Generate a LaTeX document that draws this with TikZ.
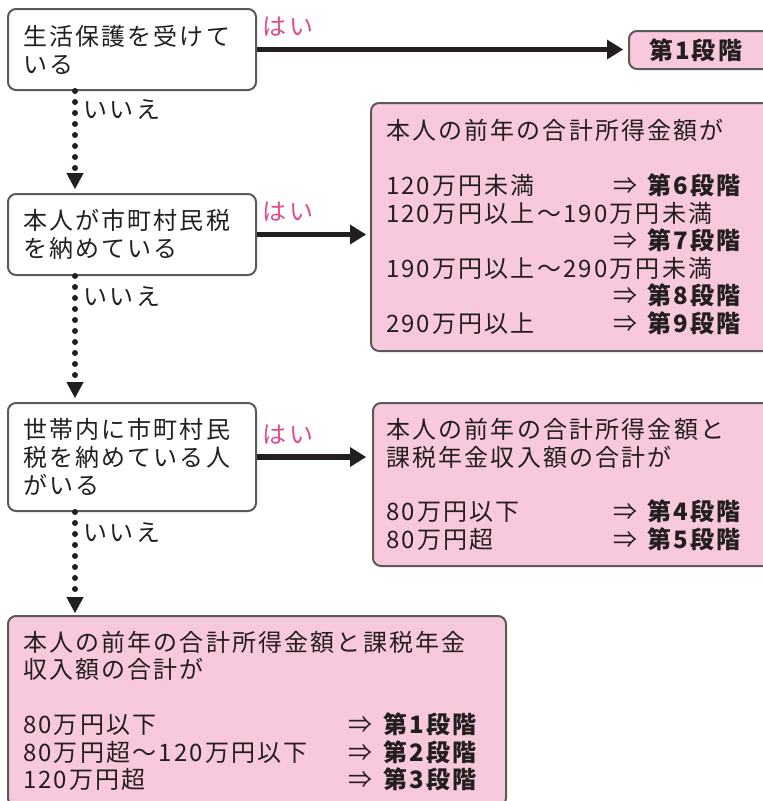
\documentclass[tikz,border=0pt]{standalone}
\usepackage{fontspec}
\setmainfont{Noto Sans CJK JP}[LetterSpace=9]
\usetikzlibrary{arrows.meta}

\definecolor{pinkfill}{RGB}{248,201,221}
\definecolor{boxline}{RGB}{90,90,90}
\definecolor{yespink}{RGB}{226,72,142}
\definecolor{inkblack}{RGB}{35,31,32}

% one row of a result table: amount, then the stage number
\newcommand{\dankai}[3]{\makebox[#1][l]{#2}⇒ \textbf{第#3段階}}

\begin{document}
\begin{tikzpicture}[x=0.75pt,y=0.75pt,yscale=-1,xscale=1,
  askbox/.style={draw=boxline, line width=1.5pt, rounded corners=6pt, fill=white, text=inkblack,
    anchor=north west, align=left, text width=163.5pt, inner xsep=11.25pt, inner ysep=0pt,
    minimum height=60.75pt, font=\fontsize{18pt}{21pt}\selectfont},
  ansbox/.style={askbox, fill=pinkfill, font=\fontsize{18pt}{20.6pt}\selectfont},
  yeslab/.style={text=yespink, inner sep=0pt, font=\fontsize{18pt}{20pt}\selectfont},
  nolab/.style={text=inkblack, inner sep=0pt, font=\fontsize{18pt}{20pt}\selectfont},
  yesarrow/.style={draw=inkblack, line width=4pt, -{Triangle[length=12pt,width=15pt,line width=0pt]}},
  noarrow/.style={draw=inkblack, line width=4.5pt, line cap=round, dash pattern=on 0pt off 8.25pt,
    -{Triangle[length=12pt,width=13pt,line width=0pt]}},
]
\useasboundingbox (0,0) rectangle (763,801);

%Shape: question boxes
\node[askbox] (askA) at (7,8) {生活保護を受けて\\いる};
\node[askbox] (askB) at (7,193) {本人が市町村民税\\を納めている};
\node[askbox, minimum height=81pt] (askC) at (7,402) {世帯内に市町村民\\税を納めている人\\がいる};

%Shape: answer boxes
\node[ansbox, text width=120pt, inner xsep=15pt, minimum height=28.5pt] (stageA) at (628,30) {\textbf{第1段階}};
\node[ansbox, text width=285pt, minimum height=186pt] (stageB) at (370,102)
  {本人の前年の合計所得金額が\\[20.6pt]
   \dankai{170.25pt}{120万円未満}{6}\\
   120万円以上〜190万円未満\\
   \dankai{170.25pt}{}{7}\\
   190万円以上〜290万円未満\\
   \dankai{170.25pt}{}{8}\\
   \dankai{170.25pt}{290万円以上}{9}};
\node[ansbox, text width=285pt, inner xsep=10pt, minimum height=122.25pt] (stageC) at (372,402)
  {本人の前年の合計所得金額と\\課税年金収入額の合計が\\[20.6pt]
   \dankai{170.25pt}{80万円以下}{4}\\
   \dankai{170.25pt}{80万円超}{5}};
\node[ansbox, text width=351pt, minimum height=142.5pt] (stageD) at (7,615)
  {本人の前年の合計所得金額と課税年金\\収入額の合計が\\[20.6pt]
   \dankai{244.5pt}{80万円以下}{1}\\
   \dankai{244.5pt}{80万円超〜120万円以下}{2}\\
   \dankai{244.5pt}{120万円超}{3}};

%Straight Lines: yes
\draw[yesarrow, shorten >=3.75pt] (askA.east) -- (askA.east -| stageA.west);
\draw[yesarrow, shorten >=3pt] (askB.east) -- (askB.east -| stageB.west);
\draw[yesarrow, shorten >=4.5pt] (askC.east) -- (askC.east -| stageC.west);

%Straight Lines: no
\coordinate (dotx) at (75,0);
\draw[noarrow, shorten >=3pt] (askA.south -| dotx) -- (askB.north -| dotx);
\draw[noarrow, shorten >=3pt] (askB.south -| dotx) -- (askC.north -| dotx);
\draw[noarrow, shorten >=1.5pt] (askC.south -| dotx) -- (stageD.north -| dotx);

% Text Node
\node[yeslab] (yesA) at (288,27) {はい};
\node[yeslab] (yesB) at (288,212) {はい};
\node[yeslab] (yesC) at (288,435) {はい};
\node[nolab] (noA) at (122,110) {いいえ};
\node[nolab] (noB) at (122,297) {いいえ};
\node[nolab] (noC) at (122,533) {いいえ};

\end{tikzpicture}
\end{document}
